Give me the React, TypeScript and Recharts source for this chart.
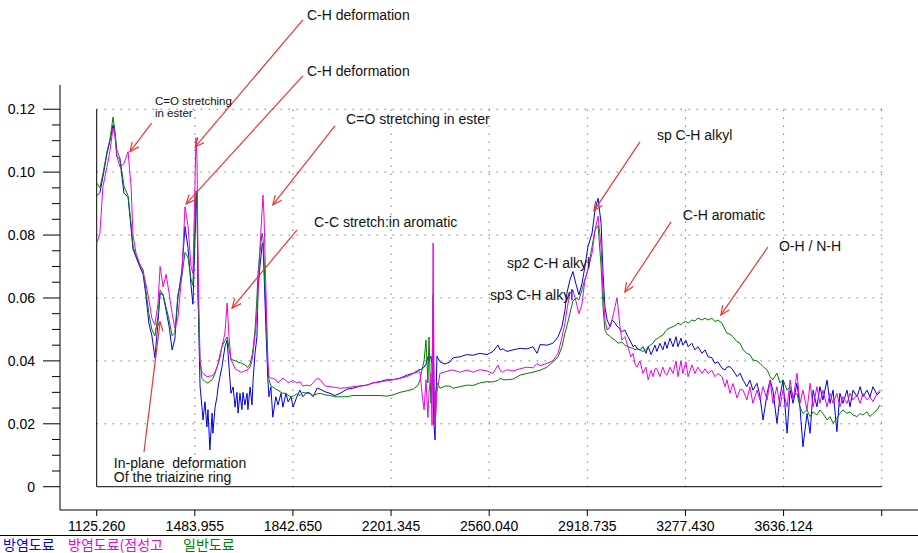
import React from 'react';
import { LineChart, Line, XAxis, YAxis, ReferenceLine, ReferenceDot } from 'recharts';

// wavenumber samples (shared by all three spectra)
const wn = [
  // 1125 - 1500
  1126, 1137, 1148, 1163, 1174, 1185, 1192, 1199, 1210, 1225, 1240, 1251, 1258, 1269, 1280, 1295, 1305, 1316, 1327, 1338,
  1349, 1357, 1368, 1379, 1390, 1401, 1411, 1422, 1437, 1448, 1459, 1470, 1477, 1485, 1488, 1492, 1496,
  // 1500 - 1905
  1503, 1510, 1514, 1521, 1528, 1532, 1539, 1547, 1550, 1558, 1565, 1569, 1576, 1583, 1594, 1602, 1609, 1616, 1624, 1631,
  1638, 1642, 1649, 1656, 1660, 1667, 1675, 1678, 1686, 1693, 1697, 1704, 1711, 1715, 1722, 1730, 1733, 1737, 1744, 1751,
  1755, 1762, 1769, 1780, 1788, 1799, 1806, 1817, 1825, 1836, 1843, 1857, 1868, 1879, 1894, 1905,
  // 1905 - 2420
  1916, 1931, 1942, 1960, 1978, 1996, 2015, 2040, 2062, 2088, 2113, 2135, 2161, 2186, 2208, 2234, 2260, 2282, 2300, 2307,
  2314, 2322, 2329, 2336, 2340, 2347, 2351, 2355, 2358, 2362, 2369, 2380, 2399, 2417,
  // 2420 - 2960
  2428, 2453, 2479, 2501, 2526, 2552, 2574, 2592, 2600, 2610, 2625, 2647, 2673, 2698, 2720, 2735, 2746, 2771, 2793, 2812,
  2826, 2837, 2844, 2855, 2866, 2877, 2888, 2899, 2910, 2921, 2936, 2947, 2958,
  // 2960 - 3480
  2969, 2976, 2983, 2991, 3002, 3009, 3020, 3027, 3031, 3038, 3045, 3056, 3067, 3078, 3086, 3093, 3100, 3111, 3122, 3133,
  3141, 3152, 3159, 3166, 3173, 3184, 3195, 3203, 3210, 3221, 3232, 3243, 3250, 3261, 3268, 3279, 3287, 3301, 3312, 3323,
  3338, 3349, 3360, 3374, 3385, 3396, 3411, 3422, 3429, 3440, 3451, 3466, 3477,
  // 3480 - 3990
  3488, 3502, 3513, 3524, 3539, 3550, 3561, 3576, 3587, 3597, 3612, 3623, 3634, 3649, 3660, 3671, 3685, 3696, 3707, 3722,
  3733, 3744, 3758, 3769, 3780, 3795, 3806, 3817, 3831, 3842, 3853, 3868, 3879, 3890, 3905, 3916, 3926, 3941, 3952, 3963,
  3978, 3989,
];

// 방염도료
const blue = [
  0.0925, 0.0935, 0.0985, 0.106, 0.110, 0.115, 0.112, 0.105, 0.104, 0.0933, 0.092, 0.082, 0.0755, 0.073, 0.0705, 0.0675, 0.061, 0.052, 0.048, 0.041,
  0.052, 0.0615, 0.061, 0.056, 0.051, 0.0435, 0.047, 0.060, 0.069, 0.0827, 0.076, 0.064, 0.058, 0.080, 0.088, 0.094, 0.060,
  0.032, 0.0253, 0.0212, 0.027, 0.019, 0.0245, 0.0117, 0.0234, 0.017, 0.0253, 0.0286, 0.0317, 0.035, 0.038, 0.0445, 0.0466, 0.038, 0.0297, 0.0317, 0.0253,
  0.030, 0.0234, 0.0297, 0.0245, 0.030, 0.026, 0.0297, 0.0245, 0.0317, 0.026, 0.034, 0.0424, 0.0476, 0.0625, 0.070, 0.077, 0.0775, 0.068, 0.0498, 0.034,
  0.0286, 0.0317, 0.0221, 0.0286, 0.026, 0.0297, 0.0253, 0.0297, 0.027, 0.0286, 0.0253, 0.0286, 0.0307, 0.0286, 0.030, 0.0297,
  0.0286, 0.0313, 0.031, 0.0302, 0.0297, 0.029, 0.0297, 0.031, 0.0313, 0.032, 0.0323, 0.033, 0.0334, 0.034, 0.034, 0.0345, 0.0355, 0.036, 0.037, 0.0372,
  0.0374, 0.038, 0.039, 0.0413, 0.040, 0.0415, 0.039, 0.030, 0.020, 0.0149, 0.0415, 0.0397, 0.039, 0.0397,
  0.041, 0.0413, 0.042, 0.0418, 0.0424, 0.042, 0.043, 0.045, 0.0435, 0.0438, 0.043, 0.0435, 0.044, 0.0438, 0.0445, 0.0424, 0.0452, 0.045, 0.0456, 0.0477,
  0.0509, 0.056, 0.0615, 0.0657, 0.0684, 0.0645, 0.061, 0.0645, 0.070, 0.0763, 0.0806, 0.088, 0.0917,
  0.0838, 0.068, 0.0572, 0.053, 0.0509, 0.053, 0.052, 0.051, 0.0509, 0.050, 0.0493, 0.0498, 0.0477, 0.046, 0.0445, 0.045, 0.044, 0.0435, 0.0445, 0.0424,
  0.0445, 0.042, 0.0435, 0.045, 0.043, 0.0456, 0.0435, 0.0461, 0.044, 0.0472, 0.0445, 0.0477, 0.0445, 0.0472, 0.045, 0.0466, 0.0445, 0.0456, 0.0435, 0.0445,
  0.0424, 0.0435, 0.0413, 0.041, 0.0392, 0.0397, 0.0377, 0.0371, 0.038, 0.0382, 0.0371, 0.035, 0.0361,
  0.0339, 0.0318, 0.0339, 0.0307, 0.0329, 0.0286, 0.0212, 0.0297, 0.0339, 0.0307, 0.0202, 0.0286, 0.0339, 0.017, 0.0307, 0.0265, 0.0329, 0.0254, 0.0127, 0.0233,
  0.017, 0.0307, 0.0254, 0.0318, 0.0276, 0.0339, 0.0265, 0.0307, 0.0175, 0.0297, 0.0265, 0.0307, 0.0254, 0.0307, 0.0286, 0.0318, 0.0286, 0.0307, 0.0286, 0.0318,
  0.0292, 0.0302,
];

// 방염도료(점성고
const magenta = [
  0.0775, 0.0806, 0.0954, 0.1017, 0.107, 0.114, 0.112, 0.105, 0.1017, 0.1028, 0.1065, 0.0954, 0.080, 0.0742, 0.0715, 0.068, 0.0645, 0.0595, 0.0535, 0.0515,
  0.058, 0.070, 0.0635, 0.0675, 0.0615, 0.055, 0.0505, 0.0535, 0.068, 0.089, 0.083, 0.070, 0.0678, 0.098, 0.111, 0.104, 0.070,
  0.040, 0.0364, 0.036, 0.0355, 0.035, 0.035, 0.0352, 0.0352, 0.0355, 0.0365, 0.038, 0.039, 0.041, 0.0445, 0.0488, 0.0584, 0.0476, 0.0403, 0.039, 0.0375,
  0.0371, 0.037, 0.0365, 0.0364, 0.0366, 0.0368, 0.037, 0.0375, 0.038, 0.040, 0.0424, 0.048, 0.0551, 0.062, 0.076, 0.0879, 0.0927, 0.086, 0.062, 0.040,
  0.035, 0.0345, 0.0345, 0.034, 0.033, 0.034, 0.0345, 0.0338, 0.033, 0.0335, 0.0337, 0.033, 0.0334, 0.032, 0.0323, 0.032,
  0.033, 0.0345, 0.034, 0.032, 0.0318, 0.0316, 0.0313, 0.0315, 0.0318, 0.032, 0.0323, 0.033, 0.0333, 0.0337, 0.034, 0.0345, 0.035, 0.036, 0.0365, 0.0365,
  0.030, 0.0244, 0.034, 0.022, 0.030, 0.036, 0.0195, 0.0775, 0.040, 0.019, 0.030, 0.036, 0.0365, 0.037,
  0.0371, 0.0364, 0.0371, 0.0364, 0.0372, 0.0368, 0.036, 0.0387, 0.037, 0.0364, 0.0372, 0.0368, 0.0375, 0.038, 0.0378, 0.0392, 0.0385, 0.0392, 0.040, 0.0425,
  0.0475, 0.052, 0.0562, 0.0615, 0.0625, 0.059, 0.055, 0.058, 0.0657, 0.069, 0.0742, 0.0816, 0.086,
  0.0763, 0.0625, 0.053, 0.0498, 0.0509, 0.053, 0.0572, 0.060, 0.0572, 0.0509, 0.0466, 0.0477, 0.0445, 0.0413, 0.0424, 0.039, 0.038, 0.040, 0.036, 0.038,
  0.034, 0.037, 0.035, 0.0375, 0.0375, 0.035, 0.038, 0.036, 0.0355, 0.038, 0.036, 0.040, 0.035, 0.040, 0.036, 0.0397, 0.035, 0.0387, 0.036, 0.038,
  0.036, 0.0375, 0.036, 0.037, 0.035, 0.036, 0.035, 0.0318, 0.034, 0.0297, 0.0328, 0.0282, 0.031,
  0.0307, 0.0276, 0.0318, 0.0265, 0.0307, 0.0276, 0.0318, 0.0276, 0.0339, 0.0265, 0.0318, 0.0254, 0.0307, 0.0254, 0.0339, 0.0276, 0.0361, 0.0265, 0.0307, 0.0244,
  0.0329, 0.0254, 0.0318, 0.0265, 0.0307, 0.0254, 0.0297, 0.0265, 0.0297, 0.0254, 0.0286, 0.0265, 0.0297, 0.0276, 0.0292, 0.0265, 0.0297, 0.0276, 0.0286, 0.027,
  0.0297, 0.0307,
];

// 일반도료
const green = [
  0.0965, 0.095, 0.0995, 0.1065, 0.1105, 0.1175, 0.113, 0.107, 0.1045, 0.0955, 0.0925, 0.0835, 0.0765, 0.0735, 0.071, 0.069, 0.0625, 0.055, 0.050, 0.048,
  0.054, 0.0625, 0.061, 0.057, 0.053, 0.048, 0.049, 0.061, 0.067, 0.0745, 0.073, 0.066, 0.064, 0.085, 0.094, 0.090, 0.060,
  0.040, 0.0345, 0.034, 0.0335, 0.033, 0.033, 0.0335, 0.034, 0.0345, 0.036, 0.038, 0.0392, 0.042, 0.0445, 0.0465, 0.0476, 0.044, 0.0405, 0.0403, 0.040,
  0.040, 0.0395, 0.0395, 0.0392, 0.039, 0.0388, 0.038, 0.038, 0.039, 0.0417, 0.044, 0.0498, 0.060, 0.068, 0.075, 0.0806, 0.079, 0.072, 0.055, 0.038,
  0.034, 0.032, 0.0317, 0.031, 0.0307, 0.030, 0.0297, 0.0297, 0.029, 0.0286, 0.0288, 0.0295, 0.029, 0.030, 0.0297, 0.0297,
  0.029, 0.0295, 0.0297, 0.0292, 0.029, 0.0286, 0.0286, 0.0286, 0.029, 0.029, 0.029, 0.029, 0.029, 0.0288, 0.0292, 0.030, 0.0305, 0.031, 0.0323, 0.034,
  0.037, 0.040, 0.0466, 0.033, 0.0476, 0.0265, 0.035, 0.061, 0.020, 0.028, 0.033, 0.0313, 0.032, 0.032,
  0.0313, 0.0318, 0.0323, 0.0322, 0.033, 0.0334, 0.0333, 0.0338, 0.0345, 0.034, 0.034, 0.0342, 0.0355, 0.036, 0.0364, 0.0368, 0.037, 0.038, 0.0397, 0.0413,
  0.0445, 0.0488, 0.051, 0.055, 0.059, 0.060, 0.0594, 0.0625, 0.066, 0.069, 0.0763, 0.0816, 0.083,
  0.070, 0.0572, 0.0498, 0.0485, 0.0478, 0.0472, 0.0466, 0.046, 0.0456, 0.0458, 0.046, 0.045, 0.0445, 0.0442, 0.044, 0.0435, 0.0438, 0.0435, 0.043, 0.0435,
  0.0445, 0.0452, 0.0456, 0.0466, 0.047, 0.0477, 0.0482, 0.0493, 0.050, 0.0505, 0.0509, 0.0514, 0.052, 0.0515, 0.0522, 0.0525, 0.052, 0.053, 0.0527, 0.0536,
  0.053, 0.0536, 0.053, 0.0536, 0.0525, 0.053, 0.052, 0.050, 0.0488, 0.0485, 0.0477, 0.0461, 0.0456,
  0.0435, 0.0424, 0.042, 0.0403, 0.040, 0.0392, 0.0382, 0.0371, 0.035, 0.034, 0.0361, 0.033, 0.034, 0.0307, 0.0318, 0.0286, 0.0297, 0.0254, 0.0233, 0.0244,
  0.0223, 0.0238, 0.0228, 0.0244, 0.0233, 0.0212, 0.0223, 0.0202, 0.0218, 0.0233, 0.0244, 0.0233, 0.0238, 0.0228, 0.0223, 0.0233, 0.0228, 0.0238, 0.0223, 0.0233,
  0.0244, 0.026,
];

const xTicks = [1125.26, 1483.955, 1842.65, 2201.345, 2560.04, 2918.735, 3277.43, 3636.124, 3994.819];
const xTickLabels = ['1125.260', '1483.955', '1842.650', '2201.345', '2560.040', '2918.735', '3277.430', '3636.124', ''];
const yTicks = [
  0, 0.005, 0.01, 0.015, 0.02, 0.025, 0.03, 0.035, 0.04, 0.045, 0.05, 0.055, 0.06,
  0.065, 0.07, 0.075, 0.08, 0.085, 0.09, 0.095, 0.1, 0.105, 0.11, 0.115, 0.12,
];
const yGrid = [0.02, 0.04, 0.06, 0.08, 0.1, 0.12];

const series = [
  { key: 'blue', name: '방염도료', color: '#0000ee' },
  { key: 'green', name: '일반도료', color: '#007f00' },
  { key: 'magenta', name: '방염도료(점성고', color: '#ee00ee' },
];
const legendOrder = ['blue', 'magenta', 'green'];
const legendLeft = [3, 68, 183];

// peak annotations: text anchors and arrows (wavenumber, absorbance)
const notes = [
  { text: 'C=O stretching', x: 1338, y: 0.1226, size: 11.5 },
  { text: 'in ester', x: 1338, y: 0.1188, size: 11.5 },
  { text: 'C-H deformation', x: 1894, y: 0.150, size: 14 },
  { text: 'C-H deformation', x: 1894, y: 0.1322, size: 14 },
  { text: 'C=O stretching in ester', x: 2037, y: 0.1169, size: 14 },
  { text: 'C-C stretch:in aromatic', x: 1920, y: 0.0842, size: 14 },
  { text: 'In-plane  deformation', x: 1188, y: 0.0076, size: 14 },
  { text: 'Of the triaizine ring', x: 1188, y: 0.0030, size: 14 },
  { text: 'sp C-H alkyl', x: 3173, y: 0.1118, size: 14 },
  { text: 'C-H aromatic', x: 3268, y: 0.0864, size: 14 },
  { text: 'O-H / N-H', x: 3619, y: 0.0765, size: 14 },
  { text: 'sp2 C-H alkyl', x: 2625, y: 0.0710, size: 14 },
  { text: 'sp3 C-H alkyl', x: 2563, y: 0.0610, size: 14 },
];
const arrows = [
  [[1326, 0.1156], [1247, 0.1065]],
  [[1879, 0.1484], [1485, 0.1080]],
  [[1879, 0.1306], [1452, 0.0899]],
  [[1996, 0.1147], [1769, 0.0896]],
  [[1857, 0.0816], [1620, 0.0568]],
  [[1298, 0.0110], [1357, 0.0524]],
  [[3111, 0.1096], [2943, 0.0877]],
  [[3225, 0.0842], [3056, 0.0619]],
  [[3579, 0.0762], [3407, 0.0546]],
];

const rows = wn.map((x, i) => ({ wn: x, blue: blue[i], magenta: magenta[i], green: green[i] }));

const X0 = xTicks[0];
const X1 = xTicks[xTicks.length - 1];
const FONT = '"Liberation Sans", Arial, sans-serif';

function YTick(p: any) {
  const v = p.payload.value;
  const major = Math.abs(v / 0.02 - Math.round(v / 0.02)) < 1e-6;
  return (
    <g>
      <line x1={p.x - (major ? 17 : 8)} x2={p.x} y1={p.y} y2={p.y} stroke="#000" />
      {major && (
        <text x={p.x - 25} y={p.y} textAnchor="end" dominantBaseline="central" fontSize={14} fill="#000" fontFamily={FONT}>
          {v === 0 ? '0' : v.toFixed(2)}
        </text>
      )}
    </g>
  );
}

function XTick(p: any) {
  const label = xTickLabels[p.index] ?? '';
  return (
    <g>
      <line x1={p.x} x2={p.x} y1={p.y} y2={p.y + 6} stroke="#000" />
      {label && (
        <text x={p.x} y={p.y + 16} textAnchor="middle" dominantBaseline="central" fontSize={14} fill="#000" fontFamily={FONT}>
          {label}
        </text>
      )}
    </g>
  );
}

function Arrow(p: any) {
  const { x1, y1, x2, y2 } = p;
  const a = Math.atan2(y2 - y1, x2 - x1);
  const len = 10;
  const s = 0.42;
  const h1 = `${x2 - len * Math.cos(a - s)},${y2 - len * Math.sin(a - s)}`;
  const h2 = `${x2 - len * Math.cos(a + s)},${y2 - len * Math.sin(a + s)}`;
  return (
    <g stroke="#f03434" strokeWidth={1.2} fill="none">
      <line x1={x1} y1={y1} x2={x2} y2={y2} />
      <polyline points={`${h1} ${x2},${y2} ${h2}`} />
    </g>
  );
}

export default function App() {
  return (
    <div style={{ position: 'absolute', left: 0, top: 0, width: 918, height: 553, background: '#fff', overflow: 'hidden' }}>
      <LineChart
        width={918}
        height={553}
        data={rows}
        margin={{ top: 85, right: 0, bottom: 0, left: 0 }}
        style={{ fontFamily: FONT }}
      >
        <XAxis
          dataKey="wn"
          type="number"
          domain={[991.1, 4127.5]}
          allowDataOverflow
          ticks={xTicks}
          interval={0}
          height={43}
          tickSize={0}
          tickMargin={0}
          tickLine={false}
          axisLine={{ stroke: '#000' }}
          tick={(p: any) => <XTick {...p} />}
        />
        <YAxis
          type="number"
          domain={[-0.0074, 0.1277]}
          allowDataOverflow
          ticks={yTicks}
          interval={0}
          width={60}
          tickSize={0}
          tickMargin={0}
          tickLine={false}
          axisLine={{ stroke: '#000' }}
          tick={(p: any) => <YTick {...p} />}
        />

        {/* dotted grid */}
        {yGrid.map((v) => (
          <ReferenceLine key={'h' + v} segment={[{ x: X0, y: v }, { x: X1, y: v }]} stroke="#333" strokeDasharray="1 7" ifOverflow="visible" />
        ))}
        {xTicks.slice(1).map((v) => (
          <ReferenceLine key={'v' + v} segment={[{ x: v, y: 0 }, { x: v, y: 0.12 }]} stroke="#333" strokeDasharray="1 7" ifOverflow="visible" />
        ))}
        {/* inner frame */}
        <ReferenceLine segment={[{ x: X0, y: 0 }, { x: X0, y: 0.12 }]} stroke="#000" ifOverflow="visible" />
        <ReferenceLine segment={[{ x: X0, y: 0 }, { x: X1, y: 0 }]} stroke="#000" ifOverflow="visible" />

        {series.map((s) => (
          <Line
            key={s.key}
            type="linear"
            dataKey={s.key}
            name={s.name}
            stroke={s.color}
            strokeWidth={1}
            dot={false}
            isAnimationActive={false}
          />
        ))}

        {arrows.map((a, i) => (
          <ReferenceLine
            key={'a' + i}
            segment={[{ x: a[0][0], y: a[0][1] }, { x: a[1][0], y: a[1][1] }]}
            ifOverflow="visible"
            shape={(p: any) => <Arrow {...p} />}
          />
        ))}
        {notes.map((n, i) => (
          <ReferenceDot
            key={'n' + i}
            x={n.x}
            y={n.y}
            r={0}
            ifOverflow="visible"
            shape={(p: any) => (
              <text x={p.cx} y={p.cy} dominantBaseline="central" fontSize={n.size} fill="#111" fontFamily={FONT} style={{ whiteSpace: 'pre' }}>
                {n.text}
              </text>
            )}
          />
        ))}
      </LineChart>

      <div style={{ position: 'absolute', left: 0, top: 535, width: 918, borderTop: '1px solid #000' }} />
      {legendOrder.map((k, i) => {
        const s = series.find((d) => d.key === k)!;
        return (
          <span
            key={k}
            style={{
              position: 'absolute', left: legendLeft[i], top: 537, color: s.color, whiteSpace: 'nowrap',
              fontFamily: '"Noto Sans CJK KR", sans-serif', fontSize: 14, lineHeight: '15px',
            }}
          >
            {s.name}
          </span>
        );
      })}
    </div>
  );
}
